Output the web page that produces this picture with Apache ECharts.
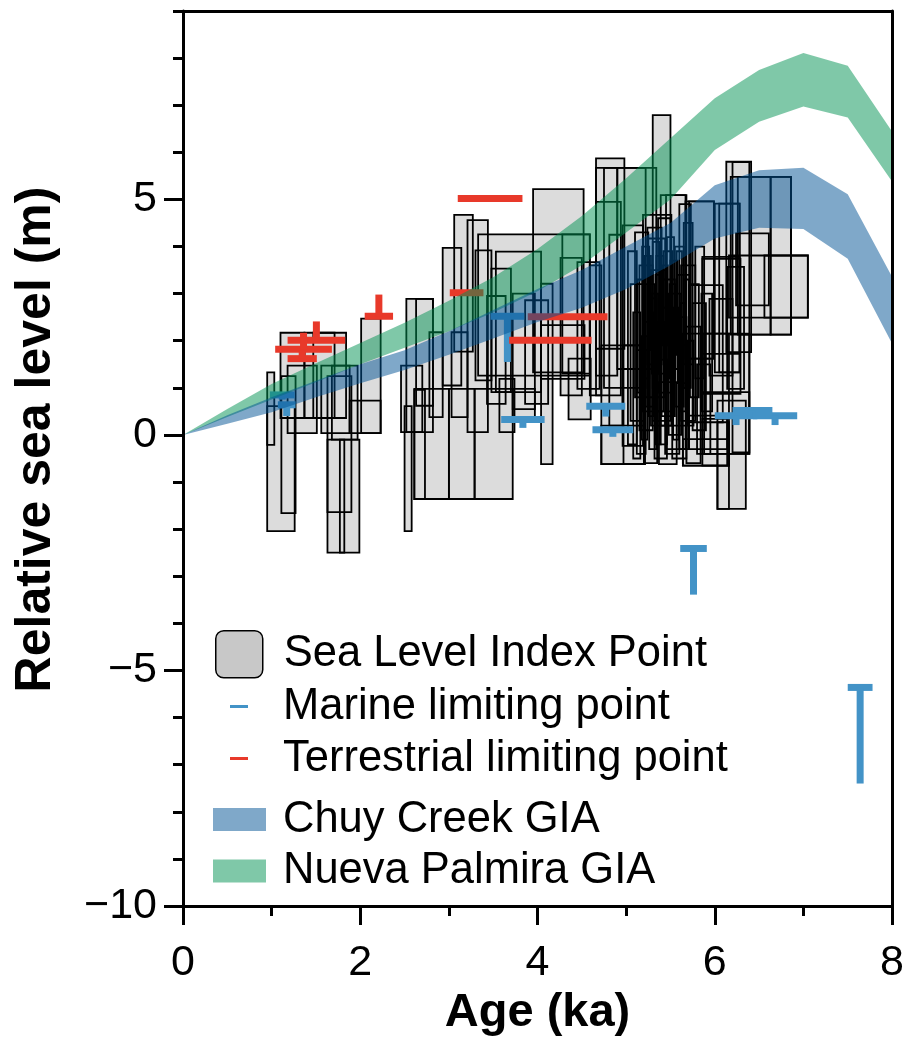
<!DOCTYPE html>
<html>
<head>
<meta charset="utf-8">
<title>Relative sea level</title>
<script src="https://cdn.jsdelivr.net/npm/echarts@6/dist/echarts.min.js"></script>
<style>
  html, body { margin: 0; padding: 0; background: #fff; }
  #chart { width: 907px; height: 1045px; }
</style>
</head>
<body>
<div id="chart"></div>
<script>
// GIA envelopes, read every 0.5 ka
var giaAges = [0, 0.5, 1, 1.5, 2, 2.5, 3, 3.5, 4, 4.5, 5, 5.5, 6, 6.5, 7, 7.5, 8];
var palmiraUpper = [0, 0.55, 1.08, 1.52, 1.95, 2.38, 2.85, 3.35, 3.95, 4.65, 5.45, 6.3, 7.15, 7.75, 8.11, 7.84, 6.44];
var palmiraLower = [0, 0.38, 0.75, 1.12, 1.5, 1.85, 2.2, 2.6, 3.05, 3.6, 4.3, 5.0, 6.05, 6.65, 6.97, 6.74, 5.38];
var chuyUpper = [0, 0.42, 0.8, 1.15, 1.5, 1.8, 2.2, 2.65, 3.1, 3.5, 4.0, 4.5, 5.3, 5.62, 5.67, 5.11, 3.36];
var chuyLower = [0, 0.24, 0.48, 0.8, 1.1, 1.38, 1.7, 2.05, 2.4, 2.7, 3.1, 3.6, 4.17, 4.4, 4.37, 3.74, 1.94];

// sea level index points: [age min, age max, rsl min, rsl max]
var slipBoxes = [
  [0.95, 1.03, -0.21, 1.33], [0.95, 1.26, -2.04, 0.61], [1.11, 1.27, -1.66, 1.25],
  [1.10, 1.37, 0.36, 2.17], [1.18, 1.51, 0.04, 1.47], [1.37, 1.71, 0.36, 2.17],
  [1.47, 1.84, 0.36, 2.17], [1.56, 1.88, 0.04, 1.47], [1.63, 1.82, -2.5, -0.1],
  [1.77, 1.99, -2.5, -0.1], [1.63, 1.90, -1.64, 1.25], [1.68, 1.97, -0.1, 1.47],
  [2.01, 2.23, 0.04, 2.47], [1.88, 2.23, 0.04, 0.73],
  [2.46, 2.70, 0.06, 1.47], [2.50, 2.58, -2.04, 0.61], [2.52, 2.82, 0.06, 2.89],
  [2.63, 2.82, 0.62, 2.89], [2.61, 2.73, -1.36, 0.96], [2.61, 3.00, -1.36, 0.98],
  [2.78, 2.93, 0.38, 2.18], [2.93, 3.14, 1.05, 3.97], [3.00, 3.29, -1.36, 0.98],
  [3.03, 3.21, 0.38, 2.18], [3.06, 3.27, 1.77, 4.67], [3.21, 3.44, 0.06, 4.56],
  [3.29, 3.72, -1.36, 0.98], [3.30, 3.48, 1.16, 3.92], [3.33, 4.59, 1.26, 4.26],
  [3.53, 4.04, 0.91, 3.89], [3.48, 3.70, 0.91, 3.53], [3.43, 3.64, 0.66, 2.95],
  [3.57, 3.74, 0.06, 1.19], [3.72, 3.97, 0.34, 0.98], [3.72, 3.97, 0.55, 3.0],
  [3.86, 4.12, 0.66, 2.86], [3.95, 4.52, 1.33, 5.22], [4.04, 4.17, -0.62, 3.21],
  [4.04, 4.53, 1.19, 2.33], [4.28, 4.59, 1.30, 4.26], [4.26, 4.50, 0.84, 3.76],
  [4.35, 4.60, 0.33, 1.62], [4.45, 4.70, 0.98, 3.67],
  [4.59, 4.72, 0.84, 3.6], [4.66, 4.98, 1.83, 5.87], [4.66, 4.90, 1.26, 5.67],
  [4.75, 5.22, 1.0, 5.67], [4.90, 5.34, 1.40, 5.67], [4.66, 4.94, 0.84, 4.95],
  [4.72, 5.21, -0.62, 0.2], [4.97, 5.21, -0.62, 1.9], [4.72, 5.21, -0.62, 1.9],
  [4.96, 5.19, -0.23, 4.45], [4.81, 4.96, 0.2, 4.25], [5.30, 5.50, 0.3, 6.79],
  [5.19, 5.51, 0.5, 4.67], [5.24, 5.44, 0.8, 4.17], [5.39, 5.68, 0.2, 5.09],
  [5.37, 5.57, -0.62, 1.12], [5.45, 5.67, -0.3, 5.09], [5.60, 5.73, 1.0, 4.9],
  [5.67, 5.99, 1.62, 4.96], [5.64, 6.16, -0.65, 2.15], [5.64, 6.16, -0.65, -0.09],
  [6.03, 6.16, -1.57, 0.27],
  [5.02, 5.12, -0.2, 3.9], [5.05, 5.20, 0.3, 3.2], [5.08, 5.16, -0.5, 2.6],
  [5.10, 5.25, 0.8, 4.3], [5.12, 5.22, -0.4, 1.8], [5.15, 5.30, 0.1, 3.6],
  [5.18, 5.26, 1.2, 4.0], [5.20, 5.35, -0.6, 2.4], [5.22, 5.32, 0.6, 3.2],
  [5.24, 5.40, 1.5, 4.4], [5.26, 5.34, -0.3, 2.9], [5.28, 5.44, 0.2, 3.5],
  [5.30, 5.38, 1.0, 4.1], [5.32, 5.46, -0.5, 1.6], [5.34, 5.42, 0.5, 3.8],
  [5.36, 5.50, 1.3, 4.6], [5.38, 5.46, -0.2, 2.7], [5.40, 5.55, 0.4, 3.3],
  [5.42, 5.52, 1.6, 3.9], [5.44, 5.60, -0.4, 2.2], [5.46, 5.54, 0.9, 4.2],
  [5.48, 5.62, 0.0, 3.0], [5.50, 5.58, 1.4, 3.7], [5.52, 5.68, -0.5, 2.5],
  [5.55, 5.65, 0.6, 4.0], [5.58, 5.72, 1.1, 3.4], [5.60, 5.70, -0.3, 1.9],
  [5.62, 5.78, 0.3, 3.6], [5.65, 5.75, 1.5, 4.5], [5.68, 5.84, -0.6, 2.3],
  [5.72, 5.82, 0.8, 3.2], [5.75, 5.90, 0.1, 2.8], [5.78, 5.88, 1.2, 4.0],
  [5.80, 5.95, -0.4, 1.5], [5.85, 5.97, 0.5, 3.0],
  [5.13, 5.19, 0.9, 3.3], [5.17, 5.24, -0.1, 2.1], [5.21, 5.28, 1.8, 3.8],
  [5.25, 5.31, 0.4, 2.6], [5.29, 5.36, 1.3, 3.0], [5.33, 5.39, -0.2, 3.4],
  [5.37, 5.43, 0.9, 2.4], [5.41, 5.47, 1.9, 3.6], [5.45, 5.51, 0.2, 2.9],
  [5.49, 5.55, 1.2, 3.2], [5.53, 5.59, -0.1, 2.7], [5.57, 5.63, 1.7, 3.9],
  [5.61, 5.67, 0.5, 2.8], [5.65, 5.71, 1.0, 3.3], [5.69, 5.76, 0.2, 2.0],
  [6.00, 6.28, 1.33, 4.91], [6.13, 6.41, 1.76, 5.80], [6.20, 6.39, -0.37, 5.79],
  [6.18, 6.86, 2.13, 5.48], [6.26, 6.63, 2.13, 5.48], [6.63, 6.86, 2.13, 5.48],
  [6.05, 6.28, 1.33, 4.91], [5.71, 5.99, 1.62, 4.96], [6.24, 6.61, 2.75, 4.28],
  [6.16, 7.05, 2.49, 3.81], [6.56, 7.05, 2.49, 3.81], [5.86, 6.29, 0.87, 3.74],
  [6.14, 6.33, 0.98, 3.57], [5.94, 6.20, 1.26, 2.89], [6.03, 6.35, -1.57, 0.73],
  [5.86, 6.14, -0.65, 0.34], [5.71, 6.14, -0.3, 0.41], [5.86, 6.39, -0.4, 0.91],
  [5.71, 6.09, 0.27, 3.18], [5.88, 6.39, -0.4, 2.15], [5.86, 6.28, 1.72, 3.78]
];

// marine limiting points: [age min, age max, rsl of bar, rsl at end of stem]
var marinePoints = [
  [0.98, 1.26, 0.85, 0.75], [1.07, 1.27, 0.64, 0.40], [3.47, 3.85, 2.52, 1.55],
  [3.59, 4.08, 0.33, 0.15], [4.55, 4.99, 0.61, 0.39], [4.62, 5.08, 0.11, -0.04],
  [5.61, 5.91, -2.41, -3.39], [7.50, 7.78, -5.36, -7.40],
  [6.00, 6.48, 0.41, 0.21], [6.20, 6.65, 0.52, 0.40], [6.43, 6.93, 0.41, 0.21]
];

// terrestrial limiting points: [age min, age max, rsl of bar, rsl at end of stem]
var terrestrialPoints = [
  [3.10, 3.83, 5.02, 5.02], [3.01, 3.39, 3.02, 3.02], [3.89, 4.79, 2.51, 2.51],
  [3.68, 4.61, 2.01, 2.01], [2.05, 2.37, 2.52, 2.98], [1.18, 1.83, 2.01, 2.41],
  [1.04, 1.68, 1.82, 2.17], [1.18, 1.51, 1.62, 1.80]
];

var font = 'Liberation Sans, Arial, Helvetica, sans-serif';
var marineColor = '#4393c7';
var terrColor = '#e8392a';
var palmiraColor = 'rgba(0,145,81,0.5)';
var chuyColor = 'rgba(0,81,147,0.5)';

function boxRender(style) {
  return function (params, api) {
    var p0 = api.coord([api.value(0), api.value(3)]);
    var p1 = api.coord([api.value(1), api.value(2)]);
    return {
      type: 'rect',
      shape: { x: p0[0], y: p0[1], width: p1[0] - p0[0], height: p1[1] - p0[1] },
      style: style
    };
  };
}

function limitRender(color) {
  return function (params, api) {
    var lo = api.value(0), hi = api.value(1), bar = api.value(2), end = api.value(3);
    var mid = (lo + hi) / 2;
    var a = api.coord([lo, bar]), b = api.coord([hi, bar]);
    var children = [{
      type: 'line',
      shape: { x1: a[0], y1: a[1], x2: b[0], y2: b[1] },
      style: { stroke: color, lineWidth: 7, lineCap: 'butt' }
    }];
    if (end !== bar) {
      var c = api.coord([mid, bar]), d = api.coord([mid, end]);
      children.push({
        type: 'line',
        shape: { x1: c[0], y1: c[1], x2: d[0], y2: d[1] },
        style: { stroke: color, lineWidth: 7, lineCap: 'butt' }
      });
    }
    return { type: 'group', children: children };
  };
}

function bandSeries(name, upper, lower, color, z) {
  return {
    name: name,
    type: 'custom',
    z: z,
    silent: true,
    clip: true,
    itemStyle: { color: color },
    data: [0],
    renderItem: function (params, api) {
      var pts = [];
      for (var i = 0; i < giaAges.length; i++) {
        pts.push(api.coord([giaAges[i], upper[i]]));
      }
      for (var j = giaAges.length - 1; j >= 0; j--) {
        pts.push(api.coord([giaAges[j], lower[j]]));
      }
      return { type: 'polygon', shape: { points: pts }, style: { fill: color } };
    }
  };
}

function legendItem(name, top, left, w, h, icon, itemStyle, padding) {
  return {
    left: left,
    top: top,
    padding: 0,
    orient: 'vertical',
    itemWidth: w,
    itemHeight: h,
    selectedMode: false,
    data: [{ name: name, icon: icon, itemStyle: itemStyle }],
    textStyle: { fontSize: 43.5, lineHeight: 43, color: '#000', fontFamily: font, padding: padding }
  };
}

var myChart = echarts.init(document.getElementById('chart'));

var axisBlack = { color: '#000', width: 3 };
// rounded square for the index point key
var slipIcon = 'path://M8 0H39A8 8 0 0 1 47 8V39A8 8 0 0 1 39 47H8A8 8 0 0 1 0 39V8A8 8 0 0 1 8 0Z';

var option = {
  animation: false,
  backgroundColor: '#fff',
  grid: { left: 183, right: 14, top: 11, bottom: 139 },
  legend: [
    legendItem('Sea Level Index Point', 630, 215, 47, 47, slipIcon,
      { color: '#c8c8c8', borderColor: '#000', borderWidth: 1.5 }, [0, 0, 0, 16]),
    legendItem('Marine limiting point', 684.5, 230, 18, 3, 'rect',
      { color: marineColor, borderWidth: 0 }, [0, 0, 0, 30]),
    legendItem('Terrestrial limiting point', 736.5, 230, 18, 3, 'rect',
      { color: terrColor, borderWidth: 0 }, [0, 0, 0, 30]),
    legendItem('Chuy Creek GIA', 790, 213, 53, 23, 'rect',
      { color: chuyColor, borderWidth: 0 }, [0, 0, 16, 12]),
    legendItem('Nueva Palmira GIA', 841.5, 213, 53, 23, 'rect',
      { color: palmiraColor, borderWidth: 0 }, [0, 0, 16, 12])
  ],
  xAxis: [
    {
      type: 'value', min: 0, max: 8, interval: 2, z: 10,
      name: 'Age (ka)', nameLocation: 'middle', nameGap: 84,
      nameTextStyle: { fontSize: 47, fontWeight: 'bold', color: '#000', fontFamily: font },
      axisLine: { show: true, onZero: false, lineStyle: axisBlack },
      axisTick: { show: true, length: 19, lineStyle: axisBlack },
      minorTick: { show: true, splitNumber: 2, length: 10, lineStyle: axisBlack },
      axisLabel: { fontSize: 43, color: '#000', margin: 36, fontFamily: font },
      splitLine: { show: false }
    },
    {
      type: 'value', min: 0, max: 8, position: 'top', z: 10,
      axisLine: { show: true, onZero: false, lineStyle: axisBlack },
      axisTick: { show: false }, axisLabel: { show: false }, splitLine: { show: false }
    }
  ],
  yAxis: [
    {
      type: 'value', min: -10, max: 9, interval: 5, z: 10,
      name: 'Relative sea level (m)', nameLocation: 'middle', nameGap: 122,
      nameTextStyle: {
        fontSize: 50, fontWeight: 'bold', color: '#000', fontFamily: font,
        padding: [0, 0, 0, 38]
      },
      axisLine: { show: true, onZero: false, lineStyle: axisBlack },
      axisTick: { show: true, length: 19, lineStyle: axisBlack },
      axisLabel: {
        fontSize: 43, color: '#000', margin: 26, fontFamily: font, showMaxLabel: false,
        formatter: function (v) { return String(v).replace('-', '\u2212'); }
      },
      splitLine: { show: false }
    },
    {
      type: 'value', min: -10, max: 9, interval: 1, position: 'left', z: 10,
      axisLine: { show: false, onZero: false },
      axisTick: { show: true, length: 10, lineStyle: axisBlack },
      axisLabel: { show: false }, splitLine: { show: false }
    },
    {
      type: 'value', min: -10, max: 9, position: 'right', z: 10,
      axisLine: { show: true, onZero: false, lineStyle: axisBlack },
      axisTick: { show: false }, axisLabel: { show: false }, splitLine: { show: false }
    }
  ],
  series: [
    {
      name: 'Sea Level Index Point', type: 'custom', z: 2, silent: true,
      itemStyle: { color: '#c8c8c8' },
      encode: { x: [0, 1], y: [2, 3] },
      data: slipBoxes,
      renderItem: boxRender({ fill: '#dcdcdc', stroke: null })
    },
    {
      name: 'SLIP outline', type: 'custom', z: 3, silent: true,
      encode: { x: [0, 1], y: [2, 3] },
      data: slipBoxes,
      renderItem: boxRender({ fill: 'none', stroke: '#000', lineWidth: 1.8 })
    },
    {
      name: 'Marine limiting point', type: 'custom', z: 4, silent: true,
      itemStyle: { color: marineColor },
      encode: { x: [0, 1], y: [2, 3] },
      data: marinePoints,
      renderItem: limitRender(marineColor)
    },
    {
      name: 'Terrestrial limiting point', type: 'custom', z: 4, silent: true,
      itemStyle: { color: terrColor },
      encode: { x: [0, 1], y: [2, 3] },
      data: terrestrialPoints,
      renderItem: limitRender(terrColor)
    },
    bandSeries('Nueva Palmira GIA', palmiraUpper, palmiraLower, palmiraColor, 5),
    bandSeries('Chuy Creek GIA', chuyUpper, chuyLower, chuyColor, 6)
  ]
};

myChart.setOption(option);
</script>
</body>
</html>
